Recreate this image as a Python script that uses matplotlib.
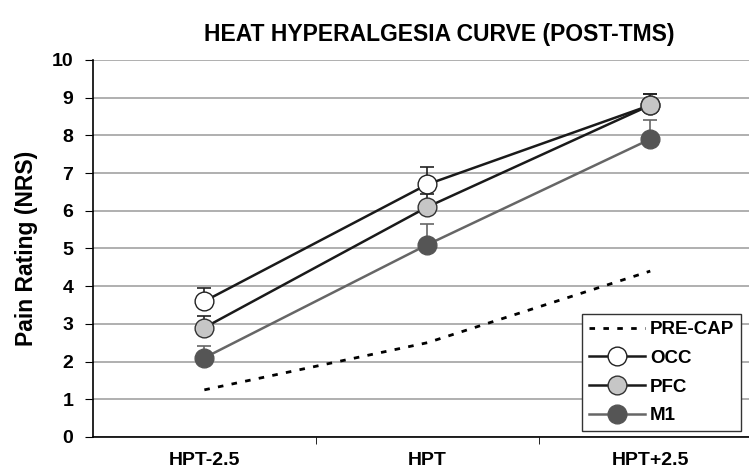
"""
heat hyperalgesia curve (post-tms)
"""

import numpy as np
from matplotlib import pyplot as plt

plt.rcParams['font.family'] = ['Liberation Sans', 'DejaVu Sans']
plt.rcParams['font.weight'] = 'bold'

categories = ['HPT-2.5', 'HPT', 'HPT+2.5']
pre_cap = [1.25, 2.5, 4.4]
occ = [3.6, 6.7, 8.8]
pfc = [2.9, 6.1, 8.8]
m1 = [2.1, 5.1, 7.9]
occ_err = [0.35, 0.45, 0.3]
pfc_err = [0.3, 0.35, 0.3]
m1_err = [0.3, 0.55, 0.5]


if __name__ == '__main__':
    fig = plt.figure(figsize=(7.49, 4.76), dpi=100)
    ax = fig.add_axes([0.124, 0.082, 0.893, 0.792])
    x = np.arange(len(categories))

    ax.plot(x, pre_cap, color='black', lw=2.0, ls=(0, (2.0, 3.0)),
            label='PRE-CAP', zorder=3)
    # barres d erreur vers le haut seulement
    for vals, err, col in [(m1, m1_err, '#666666'), (pfc, pfc_err, '#222222'),
                           (occ, occ_err, '#222222')]:
        ax.errorbar(x, vals, yerr=[np.zeros(3), err], fmt='none',
                    ecolor=col, elinewidth=1.2, capsize=5, capthick=1.2,
                    zorder=2)
    ax.plot(x, occ, color='#1a1a1a', lw=1.8, marker='o', ms=13.5,
            mfc='white', mec='#222222', mew=1, label='OCC', zorder=5)
    ax.plot(x, pfc, color='#1a1a1a', lw=1.8, marker='o', ms=13.5,
            mfc='#c6c6c6', mec='#333333', mew=1, label='PFC', zorder=6)
    ax.plot(x, m1, color='#666666', lw=1.8, marker='o', ms=13.5,
            mfc='#555555', mec='#555555', mew=1, label='M1', zorder=4)

    ax.set_xlim(-0.5, 2.5)
    ax.set_ylim(0, 10)
    ax.set_yticks(range(11))
    ax.set_yticklabels([str(i) for i in range(11)], fontsize=14,
                       fontweight='bold')
    ax.set_xticks(x)
    ax.set_xticklabels(categories, fontsize=14, fontweight='bold')
    ax.set_xticks([0.5, 1.5], minor=True)
    ax.tick_params(axis='x', which='major', length=0, pad=11)
    ax.tick_params(axis='x', which='minor', length=5, direction='out')
    ax.tick_params(axis='y', length=6, direction='out', pad=8)
    ax.grid(axis='y', color='#9a9a9a', lw=1.1)
    ax.set_axisbelow(True)
    for s in ['top', 'right']:
        ax.spines[s].set_visible(False)
    ax.spines['left'].set_linewidth(1.2)
    ax.spines['bottom'].set_linewidth(1.2)

    ax.set_ylabel('Pain Rating (NRS)', fontsize=16.5, fontweight='bold',
                  labelpad=10)
    fig.text(0.586, 0.927, 'HEAT HYPERALGESIA CURVE (POST-TMS)',
             fontsize=16.5, fontweight='bold', ha='center', va='center')

    leg = ax.legend(loc='lower left', bbox_to_anchor=(0.732, 0.016),
                    borderaxespad=0,
                    prop={'size': 13.5, 'weight': 'bold'}, fancybox=False,
                    framealpha=1, edgecolor='#333333', handlelength=3.0,
                    handletextpad=0.25, borderpad=0.35, labelspacing=0.62)
    leg.get_frame().set_linewidth(1.0)

    fig.savefig('out.png', dpi=100)
